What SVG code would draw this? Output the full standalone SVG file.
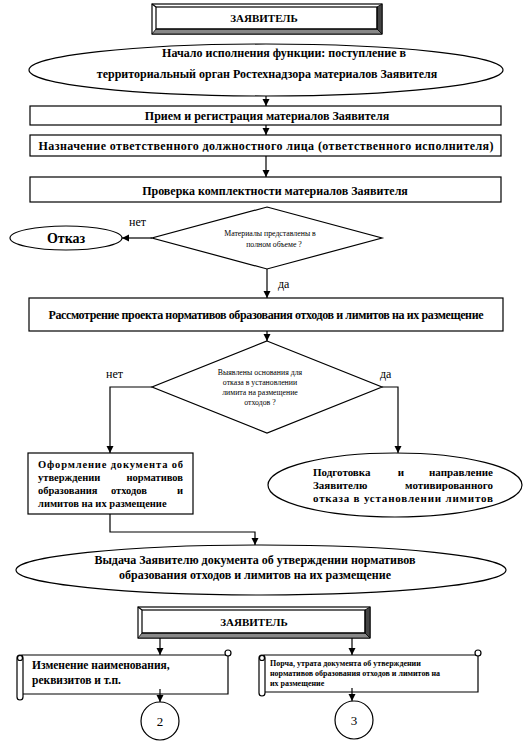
<svg xmlns="http://www.w3.org/2000/svg" width="530" height="744" viewBox="0 0 530 744">
<style>
.b{fill:#fff;stroke:#000;stroke-width:1.2}
.n{fill:none;stroke:#000;stroke-width:1.2}
.t{font-family:"Liberation Serif","Times New Roman",serif;font-weight:bold;fill:#000}
.m{text-anchor:middle}
.e{text-anchor:end}
.r{font-family:"Liberation Serif","Times New Roman",serif;fill:#000}
.s{font-family:"Liberation Serif","Times New Roman",serif;font-size:7.8px;fill:#000;text-anchor:middle}
.c{fill:none;stroke:#000;stroke-width:1.2}
.f12{font-size:12px}
.f11{font-size:11px}
.f105{font-size:10.5px}
.f115{font-size:11.5px}
.f14{font-size:14px}
.f13{font-size:13px}
.f8{font-size:8px}
</style>
<defs>
<marker id="ah" markerUnits="userSpaceOnUse" markerWidth="8" markerHeight="8" refX="7" refY="3.5" orient="auto">
<path d="M0,0 L7,3.5 L0,7 z" fill="#000"/>
</marker>
</defs>

<g id="applicant-top">
<rect class="b" x="152" y="4" width="230" height="30"/>
<polygon points="382,4 382,34 377,29 377,7" fill="#444" stroke="#000" stroke-width="0.8"/>
<polygon points="152,34 382,34 377,29 156,29" fill="#888" stroke="#000" stroke-width="0.8"/>
<line class="n" x1="152" y1="4" x2="156" y2="7"/>
<rect class="n" x="156" y="7" width="221" height="22"/>
<text class="t m f11" x="264" y="22">ЗАЯВИТЕЛЬ</text>
</g>

<g id="start">
<ellipse class="b" cx="266" cy="70" rx="237" ry="26"/>
<text class="t m f12" x="284" y="57">Начало исполнения функции: поступление в</text>
<text class="t m f12" x="267" y="78">территориальный орган Ростехнадзора материалов Заявителя</text>
</g>

<g id="reception">
<rect class="b" x="30" y="106" width="471" height="19"/>
<text class="t m f12" x="267" y="120">Прием и регистрация материалов Заявителя</text>
</g>

<g id="assign">
<rect class="b" x="30" y="135" width="471" height="21"/>
<text class="t m f12" x="266" y="150" textLength="455">Назначение ответственного должностного лица (ответственного исполнителя)</text>
</g>

<g id="check">
<rect class="b" x="30" y="177" width="471" height="25"/>
<text class="t m f12" x="275" y="195">Проверка комплектности материалов Заявителя</text>
</g>

<g id="decision1">
<polygon class="b" points="267,207 382,238 267,269 152,238"/>
<text class="s" x="270" y="236">Материалы представлены в</text>
<text class="s" x="274" y="247">полном объеме ?</text>
</g>

<g id="refusal">
<ellipse class="b" cx="66" cy="238" rx="56" ry="12"/>
<text class="t m f14" x="66" y="243">Отказ</text>
</g>

<g id="review">
<rect class="b" x="29" y="298" width="474" height="33"/>
<text class="t m f12" x="266" y="319" textLength="435">Рассмотрение проекта нормативов образования отходов и лимитов на их размещение</text>
</g>

<g id="decision2">
<polygon class="b" points="267,341 382,387 267,433 152,387"/>
<text class="s" x="260" y="375">Выявлены основания для</text>
<text class="s" x="260" y="385">отказа в установлении</text>
<text class="s" x="260" y="395">лимита на размещение</text>
<text class="s" x="260" y="405">отходов ?</text>
</g>

<g id="formalize">
<rect class="b" x="28" y="453" width="165" height="61"/>
<text class="t f105" x="38" y="468" textLength="145">Оформление документа об</text>
<text class="t f105" x="38" y="481">утверждении</text>
<text class="t e f105" x="183" y="481">нормативов</text>
<text class="t f105" x="38" y="494">образования</text>
<text class="t m f105" x="129" y="494">отходов</text>
<text class="t e f105" x="183" y="494">и</text>
<text class="t f105" x="38" y="507">лимитов на их размещение</text>
</g>

<g id="prepare-refusal">
<ellipse class="b" cx="395" cy="485" rx="127" ry="32"/>
<text class="t f11" x="313" y="476">Подготовка</text>
<text class="t m f11" x="401" y="476">и</text>
<text class="t e f11" x="493" y="476">направление</text>
<text class="t f11" x="313" y="489">Заявителю</text>
<text class="t e f11" x="493" y="489">мотивированного</text>
<text class="t f11" x="313" y="502" textLength="180">отказа в установлении лимитов</text>
</g>

<g id="issue">
<ellipse class="b" cx="261" cy="570" rx="245" ry="25"/>
<text class="t m f12" x="255" y="564">Выдача Заявителю документа об утверждении нормативов</text>
<text class="t m f12" x="255" y="579">образования отходов и лимитов на их размещение</text>
</g>

<g id="applicant-bottom">
<rect class="b" x="138" y="607" width="232" height="31"/>
<polygon points="370,607 370,638 365,633 365,610" fill="#444" stroke="#000" stroke-width="0.8"/>
<polygon points="138,638 370,638 365,633 142,633" fill="#888" stroke="#000" stroke-width="0.8"/>
<line class="n" x1="138" y1="607" x2="142" y2="610"/>
<rect class="n" x="142" y="610" width="223" height="23"/>
<text class="t m f11" x="254" y="626">ЗАЯВИТЕЛЬ</text>
</g>

<g id="change-name">
<path class="b" d="M22,655 H228 V694 H22 Z"/>
<circle class="b" cx="228" cy="653" r="3"/>
<rect class="b" x="17" y="655" width="6" height="45" rx="3"/>
<circle class="n" cx="20" cy="658" r="2.5"/>
<text class="t f115" x="32" y="669">Изменение наименования,</text>
<text class="t f115" x="32" y="684">реквизитов и т.п.</text>
</g>

<g id="loss">
<path class="b" d="M264,655 H478 V692 H264 Z"/>
<circle class="b" cx="478" cy="653" r="3"/>
<rect class="b" x="259" y="655" width="6" height="41" rx="3"/>
<circle class="n" cx="262" cy="658" r="2.5"/>
<text class="t f8" x="270" y="666">Порча, утрата документа об утверждении</text>
<text class="t f8" x="270" y="676">нормативов образования отходов и лимитов на</text>
<text class="t f8" x="270" y="686">их размещение</text>
</g>

<g id="ref2">
<circle class="b" cx="160" cy="721" r="19"/>
<text class="r m f13" x="160" y="726">2</text>
</g>

<g id="ref3">
<circle class="b" cx="354" cy="720" r="19"/>
<text class="r m f13" x="354" y="725">3</text>
</g>

<g id="connectors">
<line class="c" x1="266" y1="96" x2="266" y2="106" marker-end="url(#ah)"/>
<line class="c" x1="266" y1="125" x2="266" y2="135" marker-end="url(#ah)"/>
<line class="c" x1="266" y1="156" x2="266" y2="177" marker-end="url(#ah)"/>
<line class="c" x1="152" y1="238" x2="122" y2="238" marker-end="url(#ah)"/>
<line class="c" x1="267" y1="269" x2="267" y2="298" marker-end="url(#ah)"/>
<line class="c" x1="267" y1="331" x2="267" y2="341" marker-end="url(#ah)"/>
<polyline class="c" points="152,387 110,387 110,453" marker-end="url(#ah)"/>
<polyline class="c" points="382,387 398,387 398,453" marker-end="url(#ah)"/>
<polyline class="c" points="110,514 110,532 255,532 255,545" marker-end="url(#ah)"/>
<line class="c" x1="160" y1="638" x2="160" y2="655" marker-end="url(#ah)"/>
<line class="c" x1="352" y1="638" x2="352" y2="655" marker-end="url(#ah)"/>
<line class="c" x1="160" y1="689" x2="160" y2="702" marker-end="url(#ah)"/>
<line class="c" x1="352" y1="688" x2="352" y2="701" marker-end="url(#ah)"/>
<text class="r f12" x="129" y="226">нет</text>
<text class="r f12" x="278" y="288">да</text>
<text class="r f12" x="106" y="378">нет</text>
<text class="r f12" x="380" y="378">да</text>
</g>
</svg>
